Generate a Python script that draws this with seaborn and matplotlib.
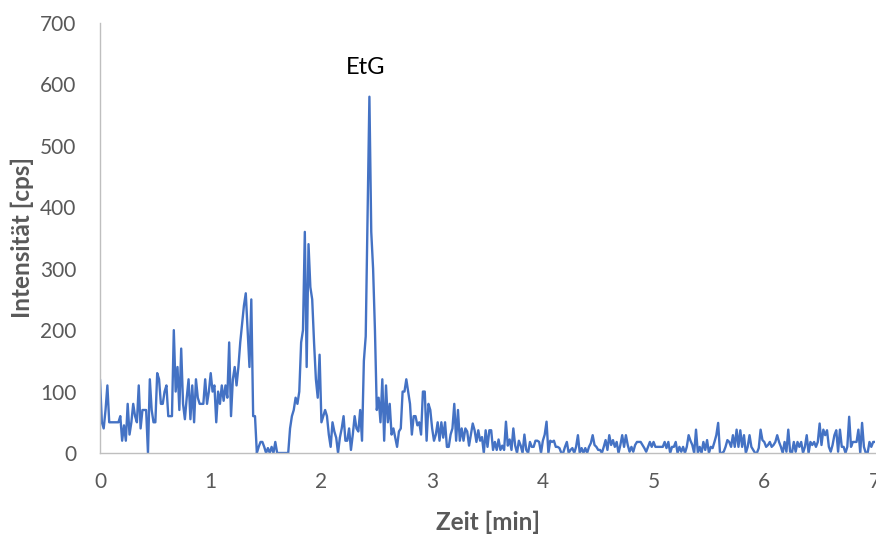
import numpy as np
import pandas as pd
import matplotlib
matplotlib.use("Agg")
import matplotlib.pyplot as plt
import seaborn as sns

# Intensity [cps], one value per second (1/60 min), split per minute
int_min0 = [120, 50, 40, 70, 110, 50, 50, 50, 50, 50,
            50, 60, 20, 45, 20, 80, 30, 50, 80, 60,
            50, 110, 40, 70, 70, 70, 0, 120, 70, 50,
            50, 130, 120, 80, 80, 100, 110, 60, 60, 60,
            200, 100, 140, 70, 170, 80, 55, 90, 120, 55,
            110, 50, 120, 90, 80, 80, 80, 120, 80, 100]
int_min1 = [130, 100, 110, 50, 100, 80, 110, 85, 110, 90,
            180, 60, 120, 140, 110, 140, 180, 210, 240, 260,
            200, 140, 250, 60, 60, 0, 10, 18, 18, 10,
            0, 8, 0, 10, 0, 18, 0, 0, 0, 0,
            0, 0, 0, 40, 60, 70, 90, 80, 100, 180,
            200, 360, 140, 340, 270, 250, 180, 120, 90, 160]
int_min2 = [50, 60, 70, 60, 30, 10, 50, 35, 25, 0,
            25, 40, 60, 20, 20, 40, 5, 30, 60, 40,
            35, 70, 20, 150, 190, 380, 580, 360, 300, 200,
            70, 90, 50, 120, 20, 110, 50, 80, 30, 40,
            25, 10, 35, 40, 100, 100, 120, 100, 80, 30,
            60, 60, 45, 50, 30, 100, 100, 20, 80, 70]
int_min3 = [40, 20, 30, 50, 20, 50, 25, 50, 10, 10,
            30, 40, 80, 20, 70, 20, 40, 20, 40, 35,
            12, 30, 48, 37, 18, 37, 20, 26, 0, 37,
            10, 37, 37, 5, 18, 5, 22, 5, 12, 5,
            51, 12, 22, 5, 40, 12, 0, 20, 12, 0,
            30, 5, 0, 18, 10, 10, 20, 20, 18, 0]
int_min4 = [20, 30, 51, 0, 20, 18, 20, 10, 10, 8,
            0, 0, 10, 18, 0, 5, 8, 0, 10, 29,
            0, 8, 0, 8, 0, 10, 16, 29, 13, 10,
            5, 5, 0, 10, 21, 5, 29, 13, 21, 10,
            18, 0, 13, 29, 10, 29, 13, 2, 10, 2,
            13, 18, 18, 18, 13, 8, 2, 10, 18, 10]
int_min5 = [18, 10, 10, 10, 10, 10, 18, 8, 18, 0,
            10, 10, 18, 0, 10, 2, 10, 0, 10, 29,
            20, 13, 0, 38, 0, 10, 0, 18, 5, 21,
            0, 10, 8, 18, 29, 49, 0, 0, 2, 10,
            21, 18, 10, 29, 10, 38, 10, 37, 10, 29,
            0, 10, 29, 10, 5, 0, 0, 8, 38, 21]
int_min6 = [18, 10, 13, 18, 10, 13, 18, 29, 18, 10,
            0, 18, 2, 38, 2, 0, 18, 2, 18, 10,
            18, 0, 10, 29, 0, 18, 13, 18, 10, 18,
            48, 13, 38, 29, 37, 10, 2, 13, 29, 37,
            2, 38, 10, 10, 0, 10, 59, 10, 18, 18,
            18, 38, 0, 49, 10, 0, 0, 18, 10, 18,
            18]

x_ticks = [0, 1, 2, 3, 4, 5, 6, 7]
y_ticks = [0, 100, 200, 300, 400, 500, 600, 700]
peak_label = "EtG"
peak_pos = (2.40, 628)
x_title = "Zeit [min]"
y_title = "Intensität [cps]"

intensity = np.array(int_min0 + int_min1 + int_min2 + int_min3 +
                     int_min4 + int_min5 + int_min6, dtype=float)
time_min = np.arange(len(intensity)) / 60.0
df = pd.DataFrame({"Zeit": time_min, "Intensität": intensity})

sns.set_theme(style="white")
plt.rcParams["font.family"] = ["Lato", "DejaVu Sans"]

fig = plt.figure(figsize=(8.76, 5.35), dpi=100)
ax = fig.add_axes([100/876, 1 - 453/535, 775/876, (453 - 23)/535])

sns.lineplot(data=df, x="Zeit", y="Intensität", ax=ax, color="#4472C4",
             linewidth=1.7, estimator=None)

ax.set_xlim(0, 7)
ax.set_ylim(0, 700)
ax.set_xticks(x_ticks)
ax.set_yticks(y_ticks)
ax.set_xticklabels([str(v) for v in x_ticks])
ax.set_yticklabels([str(v) for v in y_ticks])
ax.tick_params(axis="both", length=0, labelsize=15, colors="#595959")
ax.tick_params(axis="x", pad=14)
ax.tick_params(axis="y", pad=17)

for s in ["top", "right"]:
    ax.spines[s].set_visible(False)
for s in ["left", "bottom"]:
    ax.spines[s].set_color("#BFBFBF")
    ax.spines[s].set_linewidth(1.0)

ax.set_xlabel(x_title, fontsize=17.5, fontweight="bold", color="#595959", labelpad=13)
ax.set_ylabel(y_title, fontsize=17.5, fontweight="bold", color="#595959", labelpad=4)
ax.text(peak_pos[0], peak_pos[1], peak_label, fontsize=17, color="black",
        ha="center", va="center")

fig.savefig("out.png", dpi=100)
